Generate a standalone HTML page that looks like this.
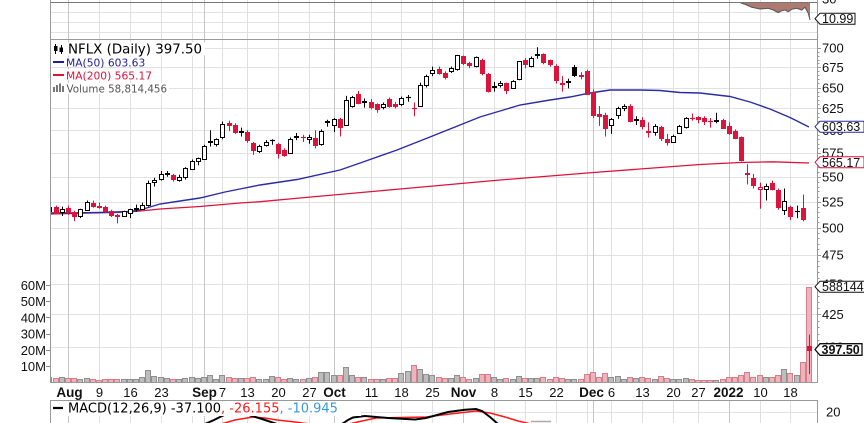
<!DOCTYPE html>
<html><head><meta charset="utf-8">
<style>
html,body{margin:0;padding:0;background:#fff;overflow:hidden;width:864px;height:423px;}
svg{display:block;}
.ax{font-family:"Liberation Sans",Arial,sans-serif;font-size:13px;fill:#111;}
.xb{font-family:"Liberation Sans",Arial,sans-serif;font-size:13.5px;font-weight:bold;fill:#111;}
.bx{font-family:"Liberation Sans",Arial,sans-serif;font-size:12.5px;fill:#111;}
.lg{font-family:"DejaVu Sans",Verdana,sans-serif;}
</style></head><body>
<svg id="c" width="864" height="423" viewBox="0 0 864 423" xmlns="http://www.w3.org/2000/svg">
<defs><clipPath id="pc"><rect x="51" y="40" width="766" height="343"/></clipPath></defs>
<rect x="0" y="0" width="864" height="423" fill="#fff"/>
<g id="grid"></g>
<!-- RSI fill top panel -->
<polygon points="740,2.5 746.7,5 751.7,7.3 760,9 768.3,8.3 773.3,10 778.3,12.7 781.7,10.7 785,10 788.3,11.7 791.7,9.3 796.7,8.3 801.7,10 805,7.3 808.3,13.3 810,20 810,2.5" fill="#ad7a72"/>
<polyline points="740,2.5 746.7,5 751.7,7.3 760,9 768.3,8.3 773.3,10 778.3,12.7 781.7,10.7 785,10 788.3,11.7 791.7,9.3 796.7,8.3 801.7,10 805,7.3 808.3,13.3 810,20" fill="none" stroke="#555" stroke-width="1"/>
<g clip-path="url(#pc)">
<g id="vol"></g>
<polyline fill="none" stroke="#dc143c" stroke-width="1.3" points="50,214 130,212 160,209 200,206.5 240,203 260,201.7 300,198 400,189 500,180 600,172 680,166 700,164.5 720,163.5 740,162.5 773,161.8 809,163"/>
<polyline fill="none" stroke="#2b2ba5" stroke-width="1.4" points="50,213 70,213 100,212.5 130,211.5 140,210 150,207 160,204 180,201 200,198 225,192 240,189 260,185 297,179.5 340,170 363,162 397,150 430,137 460,125 480,117 520,105 550,100 570,97 590,93 610,90 640,90 660,90.5 680,92.5 700,93 730,96.5 750,102 770,109 790,117.5 809,127"/>
<g id="cdl"></g>
</g>
<!-- MACD lines -->
<g fill="none">
<polyline stroke="#ff1a1a" stroke-width="1.5" points="221,424 235,420 253,417 265,418 277,420 295,422 310,424"/>
<polyline stroke="#ff1a1a" stroke-width="1.5" points="349,424 362,421 376,418 400,417.5 426,417 450,414 476,411 490,413 505,417 518,421 531,424"/>
<polyline stroke="#000" stroke-width="2" points="205,424 214,420 222,416 230,413 240,412 249,415 262,419 277,424"/>
<polyline stroke="#000" stroke-width="2" points="342,424 348,420 353,417.5 365,416 388,418 415,419.5 426,418 448,412 465,409.7 476,409 482,411 490,417 498,424"/>
<line x1="531" y1="421.5" x2="551" y2="421.5" stroke="#aaa" stroke-width="1.5"/>
</g>
<!-- borders -->
<g stroke="#999" stroke-width="1" fill="none">
<line x1="50" y1="2.5" x2="817" y2="2.5" stroke="#777"/>
<line x1="50.5" y1="0" x2="50.5" y2="383"/>
<line x1="817.5" y1="0" x2="817.5" y2="383"/>
<line x1="50" y1="39.5" x2="818" y2="39.5"/>
<line x1="50" y1="382.5" x2="818" y2="382.5"/>
<line x1="50" y1="400.5" x2="818" y2="400.5"/>
<line x1="50.5" y1="400" x2="50.5" y2="423"/>
<line x1="817.5" y1="400" x2="817.5" y2="423"/>
</g>
<g id="ticks"></g>
<!-- legend -->
<rect x="51" y="42.5" width="154" height="13" fill="#fff"/>
<rect x="51" y="57.5" width="96" height="9.5" fill="#fff"/>
<rect x="51" y="69" width="102" height="11.5" fill="#fff"/>
<rect x="51" y="83" width="118" height="11" fill="#fff"/>
<g>
<line x1="55.5" y1="44" x2="55.5" y2="54" stroke="#000"/>
<rect x="54" y="46" width="3.5" height="5" fill="#000"/>
<line x1="61.5" y1="45" x2="61.5" y2="54" stroke="#000"/>
<rect x="59.5" y="47.5" width="3.5" height="4.5" fill="#000"/>
</g>
<text x="68" y="53.3" class="lg" font-size="13.4" fill="#000">NFLX (Daily) 397.50</text>
<line x1="53" y1="62" x2="64" y2="62" stroke="#1f1f99" stroke-width="2"/>
<text x="66" y="66.3" class="lg" font-size="10.7" fill="#1f1f99">MA(50) 603.63</text>
<line x1="53" y1="75" x2="64" y2="75" stroke="#dc143c" stroke-width="2"/>
<text x="66" y="79.3" class="lg" font-size="10.7" fill="#dc143c">MA(200) 565.17</text>
<g fill="#777">
<rect x="53" y="87" width="2" height="5"/><rect x="56" y="85" width="2" height="7"/><rect x="59" y="83.5" width="2" height="8.5"/><rect x="62" y="86" width="2" height="6"/>
</g>
<text x="66.5" y="92.3" class="lg" font-size="10.3" fill="#555">Volume 58,814,456</text>
<!-- MACD legend -->
<rect x="51" y="401.5" width="310" height="14.5" fill="#fff"/>
<line x1="53" y1="408" x2="63" y2="408" stroke="#000" stroke-width="2.2"/>
<text x="68" y="412.7" class="lg" font-size="13" fill="#000">MACD(12,26,9) -37.100<tspan fill="#ff1a1a">, -26.155</tspan><tspan fill="#3a9ad9">, -10.945</tspan></text>
<!-- right price labels -->
<g class="ax">
<text x="822" y="3.5">30</text>
<text x="822" y="52.7">700</text>
<text x="822" y="72.1">675</text>
<text x="822" y="92.3">650</text>
<text x="822" y="113.2">625</text>
<text x="822" y="135">600</text>
<text x="822" y="157.7">575</text>
<text x="822" y="181.5">550</text>
<text x="822" y="206.3">525</text>
<text x="822" y="232.3">500</text>
<text x="822" y="259.7">475</text>
<text x="822" y="288.6">450</text>
<text x="822" y="319.1">425</text>
<text x="822" y="351.4">400</text>
<text x="826" y="416.7">20</text>
</g>
<!-- left volume labels -->
<g class="ax" text-anchor="end">
<text x="46" y="290">60M</text>
<text x="46" y="306.2">50M</text>
<text x="46" y="322.4">40M</text>
<text x="46" y="338.6">30M</text>
<text x="46" y="354.8">20M</text>
<text x="46" y="371">10M</text>
</g>
<g stroke="#888">
<line x1="46" y1="285.5" x2="50" y2="285.5"/><line x1="46" y1="301.5" x2="50" y2="301.5"/><line x1="46" y1="317.5" x2="50" y2="317.5"/><line x1="46" y1="334.5" x2="50" y2="334.5"/><line x1="46" y1="350.5" x2="50" y2="350.5"/><line x1="46" y1="366.5" x2="50" y2="366.5"/>
</g>
<!-- x labels -->
<g class="ax" text-anchor="middle">
<text x="99.5" y="397">9</text>
<text x="130.5" y="397">16</text>
<text x="161.5" y="397">23</text>
<text x="222.5" y="397">7</text>
<text x="247.5" y="397">13</text>
<text x="278.5" y="397">20</text>
<text x="309.5" y="397">27</text>
<text x="371.5" y="397">11</text>
<text x="401.5" y="397">18</text>
<text x="432.5" y="397">25</text>
<text x="494.5" y="397">8</text>
<text x="525.5" y="397">15</text>
<text x="556.5" y="397">22</text>
<text x="611.5" y="397">6</text>
<text x="642.5" y="397">13</text>
<text x="673.5" y="397">20</text>
<text x="698.5" y="397">27</text>
<text x="760.5" y="397">10</text>
<text x="790.5" y="397">18</text>
</g>
<g class="xb" text-anchor="middle">
<text x="69.5" y="397">Aug</text>
<text x="204.5" y="397">Sep</text>
<text x="334.5" y="397">Oct</text>
<text x="463.5" y="397">Nov</text>
<text x="591.5" y="397">Dec</text>
<text x="728.5" y="397">2022</text>
</g>
<!-- value boxes -->
<path d="M815,18.7 L820,13.2 L855,13.2 L855,24.2 L820,24.2 Z" fill="#fff" stroke="#111"/>
<text x="822" y="23.2" class="bx">10.99</text>
<path d="M815,126.7 L820,121.2 L864,121.2 L864,132.2 L820,132.2 Z" fill="#fff" stroke="#2b2ba5"/>
<text x="822" y="131.2" class="bx">603.63</text>
<path d="M815,162.3 L820,156.8 L864,156.8 L864,167.8 L820,167.8 Z" fill="#fff" stroke="#dc143c"/>
<text x="822" y="166.8" class="bx">565.17</text>
<path d="M815,286.7 L820,281.2 L866,281.2 L866,292.2 L820,292.2 Z" fill="#fff" stroke="#111"/>
<text x="822" y="291.2" class="bx">58814456</text>
<path d="M815,349.5 L820,343.7 L862,343.7 L862,355.3 L820,355.3 Z" fill="#fff" stroke="#111" stroke-width="1.3"/>
<text x="821.5" y="354.2" class="bx" font-weight="bold">397.50</text>
</svg>
<script>
(function(){
var NS="http://www.w3.org/2000/svg";
function el(g,tag,a){var e=document.createElementNS(NS,tag);for(var k in a)e.setAttribute(k,a[k]);g.appendChild(e);return e;}
var L700=Math.log(700);
function Y(p){return 48+533.8*(L700-Math.log(p));}
function X(i){return Math.round(68+i*6.175);}
var grid=document.getElementById('grid');
for(var p=400;p<=700;p+=25){var y=Math.round(Y(p))+0.5;el(grid,'line',{x1:50,x2:817,y1:y,y2:y,stroke:'#e2e2e2'});}
[12.5,22.5,32.5].forEach(function(y){el(grid,'line',{x1:50,x2:817,y1:y,y2:y,stroke:'#e2e2e2'});});
el(grid,'line',{x1:50,x2:817,y1:412.5,y2:412.5,stroke:'#e2e2e2'});
var wk=[0,5,10,15,20,25,29,34,39,49,54,59,64,69,74,79,84,88,93,98,102,107,112,117];
var mo=[0,22,43,64,85,107];
function vl(i,c){var x=X(i)+0.5;[[0,39],[40,383],[400,423]].forEach(function(s){el(grid,'line',{x1:x,x2:x,y1:s[0],y2:s[1],stroke:c});});}
wk.forEach(function(i){if(mo.indexOf(i)<0)vl(i,'#e0e0e0');});
mo.forEach(function(i){vl(i,'#c6c6c6');});
var tk=document.getElementById('ticks');
for(var q=400;q<=700;q+=5){var yy=Math.round(Y(q))+0.5;el(tk,'line',{x1:817,x2:(q%25==0?821:819.5),y1:yy,y2:yy,stroke:'#999'});}
var D=[
[516,521,512,519.3,3.5],[519.5,521,513,514.25,3.0],[515,520,511,517.57,3.2],
[519,521,512,515.15,2.7],[515,516,506,510.82,2.5],[511,518,509,517.35,2.3],[517,526,516,524.89,2.6],[524,526,519,520.55,2.0],
[521,524,518,519.97,1.7],[520,521,514,515.84,2.3],[516,517,510,512.40,2.2],[512,513,504,510.72,2.4],[511,516,510,515.92,2.2],
[514,518,509,517.92,2.1],[517.5,522,515,518.91,2.4],[518,524,517,521.87,3.4],[522,546,520,543.71,7.8],[545,549,540,546.88,4.0],
[548,556,546,553.33,3.1],[553,556,550,553.41,2.6],[552,553,545,547.58,2.1],[546.5,552,545,550.12,2.1],[550,560,547,558.92,2.8],
[558,568,557,566.18,3.4],[566,570,562,569.19,2.6],
[569,584,568,582.07,3.6],[587,600,582,588.55,4.8],[585,591,582,590.53,2.4],
[592,610,590,606.71,4.9],[608,611,599,606.05,3.6],[606,608,596,597.54,2.9],[598,603,593,598.72,2.5],
[598,600,586,589.29,3.0],[586,587,573,577.76,3.2],[577,584,575,582.87,2.1],[584,589,582,586.50,2.0],[589,590,584,589.35,3.9],
[585,586,569,575.43,3.5],[578,580,571,573.14,2.3],[575,592,574,590.65,2.9],[592,597,589,593.26,2.3],[593,595,587,592.39,2.0],
[590,595,585,592.64,3.0],[591,600,580,583.85,3.6],[585,601,583,599.06,6.7],[609.5,612,604,610.34,6.6],
[606,614,598,613.15,4.5],
[613,614,593,603.35,4.4],[606,640,605,634.81,9.7],[628,640,626,639.10,4.6],[642,646,630,631.85,3.2],[634,637,626,632.66,3.1],
[633,636,624,627.04,2.3],[630,631,620,624.94,2.4],[627,632,624,629.76,2.2],[636,638,626,628.5,2.5],[630,633,625,628.29,3.0],
[630,639,628,637.97,5.9],[638.5,641,633,639.00,7.3],[626,632,616,625.14,10.8],[628,656,627,653.16,8.1],[653,666,650,664.78,5.3],
[668,676,664,671.66,4.4],[673,676,666,668.52,3.7],[668,670,660,662.92,2.9],[670,676,668,674.05,2.9],[673,691,671,690.31,4.7],
[689,690,678,681.17,3.3],[680,682,674,677.72,2.0],[677,689,675,688.29,2.6],[685,686,665,668.40,5.0],[667,668,644,645.72,5.5],
[651,657,645,651.45,3.3],[653,658,650,655.99,2.4],[655,656,642,646.91,2.5],[650,659,649,657.58,2.0],[660,683,659,682.61,4.2],
[685,687,674,679.33,2.9],[677,689,675,687.40,2.7],[691,701,686,691.69,3.0],[692,693,679,682.02,3.1],[684,685,676,678.80,2.1],
[677,679,655,659.20,3.2],[656,664,645,654.06,2.9],[657,661,649,658.29,2.1],[675,678,663,665.64,2.3],
[666,669,660,663.84,2.2],[670,672,641,641.90,5.5],
[645,648,614,617.77,6.5],[619,628,605,616.47,3.5],[617,620,593,602.13,6.0],
[606,614,596,612.69,3.1],[617,627,613,625.58,3.8],[626,630,622,628.08,2.3],[628,630,609,611.00,3.1],[613,616,606,611.66,2.5],
[612,615,601,604.56,3.3],[599,609,592,597.99,2.7],[598,607,594,605.04,2.3],[604,605,588,591.06,4.0],[590,596,583,586.73,3.0],
[587,595,586,593.74,2.3],[597,606,596,604.92,2.3],[604,615,602,614.24,2.8],[614.5,619,611,614.09,2.1],
[615,616,608,613.12,1.6],[614,616,606,610.71,1.6],[611,614,603,610.54,1.4],[610,620,608,612.09,1.7],[612,613,602,602.44,2.0],
[605,609,595,597.37,3.1],[599,601,590,591.15,3.7],[592,593,566,567.52,4.8],[553.5,563,542,553.29,6.2],[549,553,538,541.06,3.4],
[538,544,518,539.85,4.5],[538,543,526,540.84,3.3],[544,546,536,537.22,3.6],[537,538,517,519.20,4.8],[517,538,512,525.69,8.3],
[520,521,507,510.80,5.6],[516,521,509,515.86,4.4],[519,532,506,508.25,12.8],[400.43,409.15,379.99,397.50,58.8]
];
var vg=document.getElementById('vol'),cg=document.getElementById('cdl');
for(var k=0;k<D.length;k++){
 var d=D[k],i=k-3,xc=X(i),prev=k?D[k-1][3]:515,up=d[3]>=prev;
 var top=Math.round(382.5-d[4]*1.62)+0.5;
 el(vg,'rect',{x:xc-2.5,y:top,width:5,height:Math.max(383-top,0.5),fill:up?'#bdbdbd':'#f0b3bb',stroke:up?'#8f8f8f':'#d2808c','stroke-width':1});
}
for(k=0;k<D.length;k++){
 d=D[k];i=k-3;xc=X(i);prev=k?D[k-1][3]:515;up=d[3]>=prev;
 var col=up?'#000':'#dc143c',hollow=d[3]>d[0];
 el(cg,'line',{x1:xc+0.5,x2:xc+0.5,y1:Y(d[1]),y2:Y(d[2]),stroke:col,'stroke-width':1});
 var t=Math.round(Y(Math.max(d[0],d[3]))),b=Math.round(Y(Math.min(d[0],d[3])));
 if(b-t<1){el(cg,'line',{x1:xc-2,x2:xc+3,y1:t+0.5,y2:t+0.5,stroke:col,'stroke-width':1.2});}
 else{el(cg,'rect',{x:xc-1.5,y:t+0.5,width:4,height:b-t,fill:hollow?'#fff':col,stroke:col,'stroke-width':1});}
}
})();
</script>
</body></html>
